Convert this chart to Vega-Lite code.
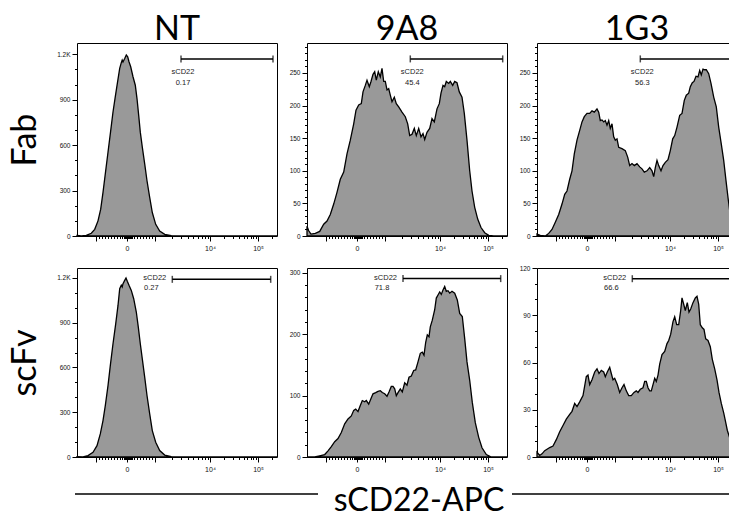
{
  "$schema": "https://vega.github.io/schema/vega-lite/v6.json",
  "padding": {"left": 8, "top": 12, "right": 0, "bottom": 0},
  "background": "white",
  "config": {
    "view": {"stroke": "black", "strokeWidth": 1},
    "axis": {"grid": false, "domain": false, "tickColor": "black", "tickWidth": 1, "labelFont": "Liberation Sans", "labelFontSize": 6.5, "labelColor": "#111111", "labelOverlap": false, "labelFlush": false},
    "title": {"font": "Lato", "fontSize": 34, "fontWeight": "normal", "color": "black", "offset": -4, "anchor": "middle"},
    "text": {"font": "Liberation Sans", "fontSize": 7.5, "color": "#222222"}
  },
  "datasets": {
    "nt_fab": [
      {"channel": 0, "count": 4}, {"channel": 4.3, "count": 0}, {"channel": 9.3, "count": 4}, {"channel": 14.3, "count": 18}, {"channel": 17.7, "count": 44}, {"channel": 21, "count": 100}, {"channel": 23.7, "count": 177}, {"channel": 26, "count": 288}, {"channel": 28.3, "count": 410}, {"channel": 31, "count": 553}, {"channel": 33.3, "count": 675}, {"channel": 36, "count": 819}, {"channel": 38, "count": 908}, {"channel": 40.3, "count": 1007}, {"channel": 42.7, "count": 1107}, {"channel": 44.3, "count": 1145}, {"channel": 45.2, "count": 1162}, {"channel": 46, "count": 1150}, {"channel": 47.7, "count": 1173}, {"channel": 49.3, "count": 1196}, {"channel": 50.7, "count": 1184}, {"channel": 52, "count": 1151}, {"channel": 53.7, "count": 1118}, {"channel": 56, "count": 1052}, {"channel": 58.3, "count": 996}, {"channel": 60, "count": 908}, {"channel": 61.7, "count": 797}, {"channel": 63.3, "count": 686}, {"channel": 65.3, "count": 587}, {"channel": 67.7, "count": 476}, {"channel": 70, "count": 365}, {"channel": 72.7, "count": 255}, {"channel": 75.3, "count": 155}, {"channel": 78.7, "count": 77}, {"channel": 82.7, "count": 33}, {"channel": 87.7, "count": 11}, {"channel": 94.3, "count": 2}, {"channel": 102.7, "count": 0}, {"channel": 200, "count": 0}
    ],
    "a98_fab": [
      {"channel": 0, "count": 15}, {"channel": 1.7, "count": 8}, {"channel": 4, "count": 3}, {"channel": 8.3, "count": 4}, {"channel": 12.7, "count": 7}, {"channel": 16.7, "count": 18}, {"channel": 20, "count": 23}, {"channel": 23.3, "count": 33}, {"channel": 26.7, "count": 49}, {"channel": 30, "count": 67}, {"channel": 33.3, "count": 87}, {"channel": 36.7, "count": 98}, {"channel": 40, "count": 126}, {"channel": 43.3, "count": 147}, {"channel": 46.7, "count": 172}, {"channel": 49, "count": 193}, {"channel": 51.7, "count": 201}, {"channel": 54.3, "count": 203}, {"channel": 56, "count": 221}, {"channel": 58.3, "count": 231}, {"channel": 60, "count": 239}, {"channel": 62.3, "count": 229}, {"channel": 64, "count": 237}, {"channel": 66, "count": 248}, {"channel": 67.7, "count": 252}, {"channel": 69.3, "count": 239}, {"channel": 71.3, "count": 252}, {"channel": 73.3, "count": 244}, {"channel": 75, "count": 257}, {"channel": 76.7, "count": 237}, {"channel": 78.3, "count": 237}, {"channel": 80, "count": 224}, {"channel": 81.7, "count": 226}, {"channel": 83.3, "count": 216}, {"channel": 85, "count": 206}, {"channel": 87.3, "count": 213}, {"channel": 89.3, "count": 203}, {"channel": 91.7, "count": 198}, {"channel": 95, "count": 190}, {"channel": 98.3, "count": 183}, {"channel": 100.7, "count": 172}, {"channel": 102.7, "count": 154}, {"channel": 105, "count": 156}, {"channel": 107.3, "count": 165}, {"channel": 109.3, "count": 154}, {"channel": 111.7, "count": 165}, {"channel": 114, "count": 152}, {"channel": 116, "count": 157}, {"channel": 117.7, "count": 148}, {"channel": 120, "count": 159}, {"channel": 122.7, "count": 165}, {"channel": 125, "count": 180}, {"channel": 127.3, "count": 175}, {"channel": 130, "count": 195}, {"channel": 132.3, "count": 203}, {"channel": 134, "count": 219}, {"channel": 136, "count": 231}, {"channel": 137.7, "count": 229}, {"channel": 139.3, "count": 237}, {"channel": 141.7, "count": 234}, {"channel": 143.3, "count": 237}, {"channel": 145.7, "count": 231}, {"channel": 147.7, "count": 237}, {"channel": 150, "count": 235}, {"channel": 152.3, "count": 221}, {"channel": 155, "count": 213}, {"channel": 157.3, "count": 188}, {"channel": 160, "count": 147}, {"channel": 162.7, "count": 100}, {"channel": 165, "count": 69}, {"channel": 167.7, "count": 44}, {"channel": 170.7, "count": 26}, {"channel": 174, "count": 13}, {"channel": 177.7, "count": 5}, {"channel": 181.7, "count": 1}, {"channel": 186.7, "count": 0}, {"channel": 200, "count": 0}
    ],
    "g13_fab": [
      {"channel": 0, "count": 3}, {"channel": 3.3, "count": 1}, {"channel": 8.3, "count": 0}, {"channel": 11.7, "count": 4}, {"channel": 15, "count": 10}, {"channel": 18.3, "count": 21}, {"channel": 21.7, "count": 33}, {"channel": 25, "count": 49}, {"channel": 27.7, "count": 64}, {"channel": 30, "count": 69}, {"channel": 32.7, "count": 87}, {"channel": 35, "count": 100}, {"channel": 37.3, "count": 126}, {"channel": 40, "count": 147}, {"channel": 42.7, "count": 162}, {"channel": 45, "count": 175}, {"channel": 47.3, "count": 183}, {"channel": 50, "count": 188}, {"channel": 52.7, "count": 188}, {"channel": 55, "count": 192}, {"channel": 57.3, "count": 190}, {"channel": 60, "count": 195}, {"channel": 61.7, "count": 190}, {"channel": 63.3, "count": 177}, {"channel": 65, "count": 178}, {"channel": 66.7, "count": 175}, {"channel": 68.3, "count": 177}, {"channel": 70, "count": 170}, {"channel": 71.7, "count": 177}, {"channel": 73.3, "count": 165}, {"channel": 75, "count": 172}, {"channel": 76.7, "count": 152}, {"channel": 78.3, "count": 147}, {"channel": 80, "count": 149}, {"channel": 81.7, "count": 136}, {"channel": 85, "count": 134}, {"channel": 88.3, "count": 131}, {"channel": 90.7, "count": 121}, {"channel": 92.7, "count": 108}, {"channel": 95, "count": 111}, {"channel": 97.3, "count": 108}, {"channel": 100, "count": 111}, {"channel": 102.7, "count": 106}, {"channel": 105, "count": 103}, {"channel": 107.3, "count": 98}, {"channel": 110, "count": 100}, {"channel": 112.7, "count": 105}, {"channel": 115, "count": 100}, {"channel": 116.7, "count": 91}, {"channel": 118.3, "count": 105}, {"channel": 120, "count": 116}, {"channel": 121.7, "count": 108}, {"channel": 124, "count": 100}, {"channel": 126, "count": 108}, {"channel": 128.3, "count": 113}, {"channel": 131, "count": 117}, {"channel": 133.3, "count": 131}, {"channel": 135.7, "count": 149}, {"channel": 137.7, "count": 154}, {"channel": 140, "count": 167}, {"channel": 142.7, "count": 185}, {"channel": 145, "count": 188}, {"channel": 147.3, "count": 208}, {"channel": 149.3, "count": 216}, {"channel": 151.7, "count": 219}, {"channel": 153.3, "count": 229}, {"channel": 155.3, "count": 235}, {"channel": 157, "count": 237}, {"channel": 159, "count": 245}, {"channel": 161, "count": 244}, {"channel": 162.7, "count": 254}, {"channel": 164.3, "count": 247}, {"channel": 166, "count": 256}, {"channel": 167.7, "count": 255}, {"channel": 169.3, "count": 255}, {"channel": 171.7, "count": 249}, {"channel": 174, "count": 234}, {"channel": 176.7, "count": 213}, {"channel": 179.3, "count": 198}, {"channel": 181.7, "count": 167}, {"channel": 184.3, "count": 141}, {"channel": 186.7, "count": 116}, {"channel": 189, "count": 85}, {"channel": 191, "count": 59}, {"channel": 192.7, "count": 39}, {"channel": 195, "count": 21}, {"channel": 198.3, "count": 5}, {"channel": 200, "count": 2}
    ],
    "nt_scfv": [
      {"channel": 0, "count": 2}, {"channel": 6, "count": 0}, {"channel": 11, "count": 9}, {"channel": 16, "count": 31}, {"channel": 20, "count": 76}, {"channel": 23.3, "count": 155}, {"channel": 26, "count": 244}, {"channel": 28.3, "count": 345}, {"channel": 31, "count": 479}, {"channel": 33.3, "count": 613}, {"channel": 36, "count": 759}, {"channel": 38.7, "count": 893}, {"channel": 41, "count": 1016}, {"channel": 42.7, "count": 1128}, {"channel": 44.3, "count": 1151}, {"channel": 45.2, "count": 1140}, {"channel": 46, "count": 1162}, {"channel": 47.7, "count": 1184}, {"channel": 49, "count": 1200}, {"channel": 50.3, "count": 1178}, {"channel": 52, "count": 1151}, {"channel": 54.3, "count": 1117}, {"channel": 56.7, "count": 1061}, {"channel": 59.3, "count": 972}, {"channel": 61.3, "count": 871}, {"channel": 63.3, "count": 759}, {"channel": 65.3, "count": 658}, {"channel": 67.7, "count": 535}, {"channel": 70, "count": 412}, {"channel": 72.7, "count": 289}, {"channel": 75.3, "count": 177}, {"channel": 78.7, "count": 99}, {"channel": 82.7, "count": 43}, {"channel": 87.7, "count": 13}, {"channel": 94.3, "count": 2}, {"channel": 101, "count": 0}, {"channel": 200, "count": 0}
    ],
    "a98_scfv": [
      {"channel": 0, "count": 0}, {"channel": 7.7, "count": 0}, {"channel": 12.7, "count": 2}, {"channel": 17.7, "count": 4}, {"channel": 21, "count": 10}, {"channel": 24.3, "count": 17}, {"channel": 27.7, "count": 25}, {"channel": 31, "count": 30}, {"channel": 34.3, "count": 40}, {"channel": 37.7, "count": 54}, {"channel": 41, "count": 62}, {"channel": 44.3, "count": 67}, {"channel": 46.7, "count": 76}, {"channel": 48.7, "count": 78}, {"channel": 51, "count": 74}, {"channel": 53.3, "count": 84}, {"channel": 55.3, "count": 92}, {"channel": 57.7, "count": 90}, {"channel": 59.3, "count": 92}, {"channel": 61.7, "count": 86}, {"channel": 63.7, "count": 94}, {"channel": 66, "count": 103}, {"channel": 68.7, "count": 105}, {"channel": 71, "count": 107}, {"channel": 73.3, "count": 108}, {"channel": 75.3, "count": 105}, {"channel": 77.7, "count": 103}, {"channel": 80, "count": 99}, {"channel": 82, "count": 106}, {"channel": 84.3, "count": 115}, {"channel": 86, "count": 115}, {"channel": 87.7, "count": 111}, {"channel": 89.3, "count": 100}, {"channel": 91, "count": 105}, {"channel": 93.3, "count": 111}, {"channel": 95.3, "count": 106}, {"channel": 97.7, "count": 121}, {"channel": 100, "count": 117}, {"channel": 102, "count": 130}, {"channel": 104.3, "count": 132}, {"channel": 106.7, "count": 141}, {"channel": 108.7, "count": 142}, {"channel": 111, "count": 155}, {"channel": 113.3, "count": 169}, {"channel": 115.3, "count": 171}, {"channel": 117, "count": 166}, {"channel": 118.7, "count": 187}, {"channel": 120.3, "count": 199}, {"channel": 122, "count": 196}, {"channel": 123.3, "count": 212}, {"channel": 125.3, "count": 223}, {"channel": 127.7, "count": 240}, {"channel": 129.3, "count": 259}, {"channel": 131, "count": 264}, {"channel": 132.7, "count": 269}, {"channel": 134.3, "count": 265}, {"channel": 136, "count": 272}, {"channel": 137.7, "count": 278}, {"channel": 139.3, "count": 270}, {"channel": 141, "count": 271}, {"channel": 142.7, "count": 267}, {"channel": 145, "count": 270}, {"channel": 147.7, "count": 267}, {"channel": 150.3, "count": 256}, {"channel": 152.7, "count": 234}, {"channel": 155.3, "count": 229}, {"channel": 157.7, "count": 193}, {"channel": 160, "count": 155}, {"channel": 162.7, "count": 125}, {"channel": 165.3, "count": 89}, {"channel": 168.3, "count": 56}, {"channel": 171.7, "count": 32}, {"channel": 175, "count": 15}, {"channel": 179.3, "count": 4}, {"channel": 184.3, "count": 0}, {"channel": 200, "count": 0}
    ],
    "g13_scfv": [
      {"channel": 0, "count": 3}, {"channel": 2.7, "count": 1}, {"channel": 5, "count": 2}, {"channel": 7.7, "count": 4}, {"channel": 12.7, "count": 6}, {"channel": 16, "count": 7}, {"channel": 19.3, "count": 11}, {"channel": 22.7, "count": 16}, {"channel": 26, "count": 20}, {"channel": 29.3, "count": 24}, {"channel": 32.7, "count": 27}, {"channel": 35, "count": 29}, {"channel": 37.7, "count": 34}, {"channel": 40, "count": 32}, {"channel": 42.7, "count": 35}, {"channel": 46, "count": 39}, {"channel": 49.3, "count": 51}, {"channel": 51, "count": 52}, {"channel": 52.7, "count": 46}, {"channel": 55, "count": 49}, {"channel": 57.7, "count": 54}, {"channel": 60, "count": 56}, {"channel": 62, "count": 53}, {"channel": 64.3, "count": 55}, {"channel": 66.7, "count": 54}, {"channel": 68.3, "count": 51}, {"channel": 70.3, "count": 54}, {"channel": 72.7, "count": 57}, {"channel": 74.3, "count": 53}, {"channel": 76, "count": 49}, {"channel": 77.7, "count": 50}, {"channel": 80.3, "count": 46}, {"channel": 82.7, "count": 41}, {"channel": 85, "count": 44}, {"channel": 87, "count": 46}, {"channel": 89.3, "count": 42}, {"channel": 91.7, "count": 39}, {"channel": 94.3, "count": 39}, {"channel": 97, "count": 41}, {"channel": 99.3, "count": 42}, {"channel": 101, "count": 41}, {"channel": 103.3, "count": 43}, {"channel": 106, "count": 44}, {"channel": 107.7, "count": 48}, {"channel": 109.3, "count": 48}, {"channel": 111, "count": 44}, {"channel": 112.7, "count": 42}, {"channel": 114.3, "count": 42}, {"channel": 116, "count": 46}, {"channel": 117.7, "count": 50}, {"channel": 119.3, "count": 48}, {"channel": 121, "count": 52}, {"channel": 122.7, "count": 59}, {"channel": 125, "count": 65}, {"channel": 127.7, "count": 67}, {"channel": 130, "count": 72}, {"channel": 131.7, "count": 74}, {"channel": 133.7, "count": 78}, {"channel": 136, "count": 86}, {"channel": 137.7, "count": 89}, {"channel": 139.7, "count": 84}, {"channel": 141.7, "count": 84}, {"channel": 143.7, "count": 93}, {"channel": 145, "count": 101}, {"channel": 146.7, "count": 97}, {"channel": 148.3, "count": 93}, {"channel": 150.3, "count": 98}, {"channel": 152, "count": 92}, {"channel": 153.7, "count": 94}, {"channel": 156, "count": 98}, {"channel": 158.3, "count": 101}, {"channel": 160, "count": 102}, {"channel": 161.7, "count": 97}, {"channel": 163.3, "count": 84}, {"channel": 165.3, "count": 82}, {"channel": 167, "count": 81}, {"channel": 168.7, "count": 75}, {"channel": 171, "count": 74}, {"channel": 173.3, "count": 70}, {"channel": 175.3, "count": 62}, {"channel": 177.7, "count": 56}, {"channel": 180, "count": 49}, {"channel": 182, "count": 41}, {"channel": 184.3, "count": 34}, {"channel": 186.7, "count": 28}, {"channel": 188.7, "count": 22}, {"channel": 190.3, "count": 17}, {"channel": 194.3, "count": 9}, {"channel": 197.7, "count": 5}, {"channel": 200, "count": 3}
    ]
  },
  "vconcat": [
    {
      "columns": 3,
      "spacing": {"row": 32, "column": 30},
      "bounds": "flush",
      "concat": [
        {
          "width": 200, "height": 193,
          "title": {"text": "NT"},
          "resolve": {"axis": {"x": "independent", "y": "independent"}},
          "layer": [
            {"data": {"name": "nt_fab"}, "mark": {"type": "area", "color": "#999999", "stroke": "black", "strokeWidth": 1.3},
             "encoding": {
               "x": {"field": "channel", "type": "quantitative", "scale": {"domain": [0, 200], "nice": false, "zero": false},
                     "axis": {"orient": "bottom", "title": null, "values": [19, 50, 78, 133, 181], "labelExpr": "datum.value == 50 ? '0' : datum.value == 133 ? '10⁴' : datum.value == 181 ? '10⁵' : ''", "tickSize": 5, "labelPadding": 3, "labelFontSize": 7}},
               "y": {"field": "count", "type": "quantitative", "scale": {"domain": [0, 1275], "nice": false},
                     "axis": {"orient": "left", "values": [0, 300, 600, 900, 1200], "labelExpr": "datum.value >= 1000 ? format(datum.value / 1000, '.1f') + 'K' : datum.label", "tickSize": 5, "labelPadding": 2, "title": "Fab", "titleFont": "Lato", "titleFontSize": 34, "titleFontWeight": "normal", "titleColor": "black", "titlePadding": 14}}
             }},
            {"data": {"values": [{"start": 104, "end": 196, "level": 1169, "gate": "sCD22", "percent": "0.17"}]},
             "mark": {"type": "rule", "color": "black", "strokeWidth": 1.5},
             "encoding": {
               "x": {"field": "start", "type": "quantitative", "axis": {"orient": "bottom", "title": null, "labels": false, "tickSize": 2.5, "values": [22, 25, 28, 31, 34, 37, 40, 43, 45, 46.5, 47.5, 48.5, 49.3, 50.7, 51.5, 52.5, 53.5, 55, 57, 60, 63, 66, 69, 72, 75, 94.6, 104.2, 111.1, 116.4, 120.8, 124.5, 127.7, 130.5, 147.4, 155.9, 161.9, 166.6, 170.4, 173.6, 176.4, 178.8, 195.4]}},
               "x2": {"field": "end"},
               "y": {"field": "level", "type": "quantitative", "axis": {"orient": "left", "title": null, "labels": false, "tickSize": 2.5, "values": [100, 200, 400, 500, 700, 800, 1000, 1100]}}
             }},
            {"data": {"values": [{"start": 104, "end": 196, "level": 1169, "gate": "sCD22", "percent": "0.17"}]},
             "layer": [
               {"mark": {"type": "tick", "orient": "vertical", "size": 7, "thickness": 1.5, "color": "black"},
                "encoding": {"x": {"field": "start", "type": "quantitative", "axis": null}, "y": {"field": "level", "type": "quantitative", "axis": null}}},
               {"mark": {"type": "tick", "orient": "vertical", "size": 7, "thickness": 1.5, "color": "black"},
                "encoding": {"x": {"field": "end", "type": "quantitative", "axis": null}, "y": {"field": "level", "type": "quantitative", "axis": null}}},
               {"mark": {"type": "text", "align": "center", "baseline": "middle", "dx": 2, "dy": 13},
                "encoding": {"x": {"field": "start", "type": "quantitative", "axis": null}, "y": {"field": "level", "type": "quantitative", "axis": null}, "text": {"field": "gate"}}},
               {"mark": {"type": "text", "align": "center", "baseline": "middle", "dx": 2, "dy": 24},
                "encoding": {"x": {"field": "start", "type": "quantitative", "axis": null}, "y": {"field": "level", "type": "quantitative", "axis": null}, "text": {"field": "percent"}}}
             ]}
          ]
        },
        {
          "width": 200, "height": 193,
          "title": {"text": "9A8"},
          "resolve": {"axis": {"x": "independent", "y": "independent"}},
          "layer": [
            {"data": {"name": "a98_fab"}, "mark": {"type": "area", "color": "#999999", "stroke": "black", "strokeWidth": 1.3},
             "encoding": {
               "x": {"field": "channel", "type": "quantitative", "scale": {"domain": [0, 200], "nice": false, "zero": false},
                     "axis": {"orient": "bottom", "title": null, "values": [19, 50, 78, 133, 181], "labelExpr": "datum.value == 50 ? '0' : datum.value == 133 ? '10⁴' : datum.value == 181 ? '10⁵' : ''", "tickSize": 5, "labelPadding": 3, "labelFontSize": 7}},
               "y": {"field": "count", "type": "quantitative", "scale": {"domain": [0, 296], "nice": false},
                     "axis": {"orient": "left", "values": [0, 50, 100, 150, 200, 250], "tickSize": 5, "labelPadding": 2, "title": null}}
             }},
            {"data": {"values": [{"start": 103.3, "end": 195.7, "level": 271.6, "gate": "sCD22", "percent": "45.4"}]},
             "mark": {"type": "rule", "color": "black", "strokeWidth": 1.5},
             "encoding": {
               "x": {"field": "start", "type": "quantitative", "axis": {"orient": "bottom", "title": null, "labels": false, "tickSize": 2.5, "values": [22, 25, 28, 31, 34, 37, 40, 43, 45, 46.5, 47.5, 48.5, 49.3, 50.7, 51.5, 52.5, 53.5, 55, 57, 60, 63, 66, 69, 72, 75, 94.6, 104.2, 111.1, 116.4, 120.8, 124.5, 127.7, 130.5, 147.4, 155.9, 161.9, 166.6, 170.4, 173.6, 176.4, 178.8, 195.4]}},
               "x2": {"field": "end"},
               "y": {"field": "level", "type": "quantitative", "axis": {"orient": "left", "title": null, "labels": false, "tickSize": 2.5, "values": [10, 20, 30, 40, 60, 70, 80, 90, 110, 120, 130, 140, 160, 170, 180, 190, 210, 220, 230, 240, 260, 270, 280, 290]}}
             }},
            {"data": {"values": [{"start": 103.3, "end": 195.7, "level": 271.6, "gate": "sCD22", "percent": "45.4"}]},
             "layer": [
               {"mark": {"type": "tick", "orient": "vertical", "size": 7, "thickness": 1.5, "color": "black"},
                "encoding": {"x": {"field": "start", "type": "quantitative", "axis": null}, "y": {"field": "level", "type": "quantitative", "axis": null}}},
               {"mark": {"type": "tick", "orient": "vertical", "size": 7, "thickness": 1.5, "color": "black"},
                "encoding": {"x": {"field": "end", "type": "quantitative", "axis": null}, "y": {"field": "level", "type": "quantitative", "axis": null}}},
               {"mark": {"type": "text", "align": "center", "baseline": "middle", "dx": 2, "dy": 13},
                "encoding": {"x": {"field": "start", "type": "quantitative", "axis": null}, "y": {"field": "level", "type": "quantitative", "axis": null}, "text": {"field": "gate"}}},
               {"mark": {"type": "text", "align": "center", "baseline": "middle", "dx": 2, "dy": 24},
                "encoding": {"x": {"field": "start", "type": "quantitative", "axis": null}, "y": {"field": "level", "type": "quantitative", "axis": null}, "text": {"field": "percent"}}}
             ]}
          ]
        },
        {
          "width": 200, "height": 193,
          "title": {"text": "1G3"},
          "resolve": {"axis": {"x": "independent", "y": "independent"}},
          "layer": [
            {"data": {"name": "g13_fab"}, "mark": {"type": "area", "color": "#999999", "stroke": "black", "strokeWidth": 1.3},
             "encoding": {
               "x": {"field": "channel", "type": "quantitative", "scale": {"domain": [0, 200], "nice": false, "zero": false},
                     "axis": {"orient": "bottom", "title": null, "values": [19, 50, 78, 133, 181], "labelExpr": "datum.value == 50 ? '0' : datum.value == 133 ? '10⁴' : datum.value == 181 ? '10⁵' : ''", "tickSize": 5, "labelPadding": 3, "labelFontSize": 7}},
               "y": {"field": "count", "type": "quantitative", "scale": {"domain": [0, 296], "nice": false},
                     "axis": {"orient": "left", "values": [0, 50, 100, 150, 200, 250], "tickSize": 5, "labelPadding": 2, "title": null}}
             }},
            {"data": {"values": [{"start": 103.3, "end": 195.7, "level": 271.6, "gate": "sCD22", "percent": "56.3"}]},
             "mark": {"type": "rule", "color": "black", "strokeWidth": 1.5},
             "encoding": {
               "x": {"field": "start", "type": "quantitative", "axis": {"orient": "bottom", "title": null, "labels": false, "tickSize": 2.5, "values": [22, 25, 28, 31, 34, 37, 40, 43, 45, 46.5, 47.5, 48.5, 49.3, 50.7, 51.5, 52.5, 53.5, 55, 57, 60, 63, 66, 69, 72, 75, 94.6, 104.2, 111.1, 116.4, 120.8, 124.5, 127.7, 130.5, 147.4, 155.9, 161.9, 166.6, 170.4, 173.6, 176.4, 178.8, 195.4]}},
               "x2": {"field": "end"},
               "y": {"field": "level", "type": "quantitative", "axis": {"orient": "left", "title": null, "labels": false, "tickSize": 2.5, "values": [10, 20, 30, 40, 60, 70, 80, 90, 110, 120, 130, 140, 160, 170, 180, 190, 210, 220, 230, 240, 260, 270, 280, 290]}}
             }},
            {"data": {"values": [{"start": 103.3, "end": 195.7, "level": 271.6, "gate": "sCD22", "percent": "56.3"}]},
             "layer": [
               {"mark": {"type": "tick", "orient": "vertical", "size": 7, "thickness": 1.5, "color": "black"},
                "encoding": {"x": {"field": "start", "type": "quantitative", "axis": null}, "y": {"field": "level", "type": "quantitative", "axis": null}}},
               {"mark": {"type": "tick", "orient": "vertical", "size": 7, "thickness": 1.5, "color": "black"},
                "encoding": {"x": {"field": "end", "type": "quantitative", "axis": null}, "y": {"field": "level", "type": "quantitative", "axis": null}}},
               {"mark": {"type": "text", "align": "center", "baseline": "middle", "dx": 2, "dy": 13},
                "encoding": {"x": {"field": "start", "type": "quantitative", "axis": null}, "y": {"field": "level", "type": "quantitative", "axis": null}, "text": {"field": "gate"}}},
               {"mark": {"type": "text", "align": "center", "baseline": "middle", "dx": 2, "dy": 24},
                "encoding": {"x": {"field": "start", "type": "quantitative", "axis": null}, "y": {"field": "level", "type": "quantitative", "axis": null}, "text": {"field": "percent"}}}
             ]}
          ]
        },
        {
          "width": 200, "height": 189,
          "resolve": {"axis": {"x": "independent", "y": "independent"}},
          "layer": [
            {"data": {"name": "nt_scfv"}, "mark": {"type": "area", "color": "#999999", "stroke": "black", "strokeWidth": 1.3},
             "encoding": {
               "x": {"field": "channel", "type": "quantitative", "scale": {"domain": [0, 200], "nice": false, "zero": false},
                     "axis": {"orient": "bottom", "title": null, "values": [19, 50, 78, 133, 181], "labelExpr": "datum.value == 50 ? '0' : datum.value == 133 ? '10⁴' : datum.value == 181 ? '10⁵' : ''", "tickSize": 5, "labelPadding": 3, "labelFontSize": 7}},
               "y": {"field": "count", "type": "quantitative", "scale": {"domain": [0, 1267], "nice": false},
                     "axis": {"orient": "left", "values": [0, 300, 600, 900, 1200], "labelExpr": "datum.value >= 1000 ? format(datum.value / 1000, '.1f') + 'K' : datum.label", "tickSize": 5, "labelPadding": 2, "title": "scFv", "titleFont": "Lato", "titleFontSize": 34, "titleFontWeight": "normal", "titleColor": "black", "titlePadding": 14}}
             }},
            {"data": {"values": [{"start": 95.3, "end": 193.7, "level": 1191, "gate": "sCD22", "percent": "0.27"}]},
             "mark": {"type": "rule", "color": "black", "strokeWidth": 1.5},
             "encoding": {
               "x": {"field": "start", "type": "quantitative", "axis": {"orient": "bottom", "title": null, "labels": false, "tickSize": 2.5, "values": [22, 25, 28, 31, 34, 37, 40, 43, 45, 46.5, 47.5, 48.5, 49.3, 50.7, 51.5, 52.5, 53.5, 55, 57, 60, 63, 66, 69, 72, 75, 94.6, 104.2, 111.1, 116.4, 120.8, 124.5, 127.7, 130.5, 147.4, 155.9, 161.9, 166.6, 170.4, 173.6, 176.4, 178.8, 195.4]}},
               "x2": {"field": "end"},
               "y": {"field": "level", "type": "quantitative", "axis": {"orient": "left", "title": null, "labels": false, "tickSize": 2.5, "values": [100, 200, 400, 500, 700, 800, 1000, 1100]}}
             }},
            {"data": {"values": [{"start": 95.3, "end": 193.7, "level": 1191, "gate": "sCD22", "percent": "0.27"}]},
             "layer": [
               {"mark": {"type": "tick", "orient": "vertical", "size": 7, "thickness": 1.5, "color": "black"},
                "encoding": {"x": {"field": "start", "type": "quantitative", "axis": null}, "y": {"field": "level", "type": "quantitative", "axis": null}}},
               {"mark": {"type": "tick", "orient": "vertical", "size": 7, "thickness": 1.5, "color": "black"},
                "encoding": {"x": {"field": "end", "type": "quantitative", "axis": null}, "y": {"field": "level", "type": "quantitative", "axis": null}}},
               {"mark": {"type": "text", "align": "right", "baseline": "middle", "dx": -6, "dy": -1},
                "encoding": {"x": {"field": "start", "type": "quantitative", "axis": null}, "y": {"field": "level", "type": "quantitative", "axis": null}, "text": {"field": "gate"}}},
               {"mark": {"type": "text", "align": "center", "baseline": "middle", "dx": -21, "dy": 9},
                "encoding": {"x": {"field": "start", "type": "quantitative", "axis": null}, "y": {"field": "level", "type": "quantitative", "axis": null}, "text": {"field": "percent"}}}
             ]}
          ]
        },
        {
          "width": 200, "height": 189,
          "resolve": {"axis": {"x": "independent", "y": "independent"}},
          "layer": [
            {"data": {"name": "a98_scfv"}, "mark": {"type": "area", "color": "#999999", "stroke": "black", "strokeWidth": 1.3},
             "encoding": {
               "x": {"field": "channel", "type": "quantitative", "scale": {"domain": [0, 200], "nice": false, "zero": false},
                     "axis": {"orient": "bottom", "title": null, "values": [19, 50, 78, 133, 181], "labelExpr": "datum.value == 50 ? '0' : datum.value == 133 ? '10⁴' : datum.value == 181 ? '10⁵' : ''", "tickSize": 5, "labelPadding": 3, "labelFontSize": 7}},
               "y": {"field": "count", "type": "quantitative", "scale": {"domain": [0, 308], "nice": false},
                     "axis": {"orient": "left", "values": [0, 100, 200, 300], "tickSize": 5, "labelPadding": 2, "title": null}}
             }},
            {"data": {"values": [{"start": 96, "end": 193.7, "level": 290.7, "gate": "sCD22", "percent": "71.8"}]},
             "mark": {"type": "rule", "color": "black", "strokeWidth": 1.5},
             "encoding": {
               "x": {"field": "start", "type": "quantitative", "axis": {"orient": "bottom", "title": null, "labels": false, "tickSize": 2.5, "values": [22, 25, 28, 31, 34, 37, 40, 43, 45, 46.5, 47.5, 48.5, 49.3, 50.7, 51.5, 52.5, 53.5, 55, 57, 60, 63, 66, 69, 72, 75, 94.6, 104.2, 111.1, 116.4, 120.8, 124.5, 127.7, 130.5, 147.4, 155.9, 161.9, 166.6, 170.4, 173.6, 176.4, 178.8, 195.4]}},
               "x2": {"field": "end"},
               "y": {"field": "level", "type": "quantitative", "axis": {"orient": "left", "title": null, "labels": false, "tickSize": 2.5, "values": [20, 40, 60, 80, 120, 140, 160, 180, 220, 240, 260, 280]}}
             }},
            {"data": {"values": [{"start": 96, "end": 193.7, "level": 290.7, "gate": "sCD22", "percent": "71.8"}]},
             "layer": [
               {"mark": {"type": "tick", "orient": "vertical", "size": 7, "thickness": 1.5, "color": "black"},
                "encoding": {"x": {"field": "start", "type": "quantitative", "axis": null}, "y": {"field": "level", "type": "quantitative", "axis": null}}},
               {"mark": {"type": "tick", "orient": "vertical", "size": 7, "thickness": 1.5, "color": "black"},
                "encoding": {"x": {"field": "end", "type": "quantitative", "axis": null}, "y": {"field": "level", "type": "quantitative", "axis": null}}},
               {"mark": {"type": "text", "align": "right", "baseline": "middle", "dx": -6, "dy": -1},
                "encoding": {"x": {"field": "start", "type": "quantitative", "axis": null}, "y": {"field": "level", "type": "quantitative", "axis": null}, "text": {"field": "gate"}}},
               {"mark": {"type": "text", "align": "center", "baseline": "middle", "dx": -21, "dy": 9},
                "encoding": {"x": {"field": "start", "type": "quantitative", "axis": null}, "y": {"field": "level", "type": "quantitative", "axis": null}, "text": {"field": "percent"}}}
             ]}
          ]
        },
        {
          "width": 200, "height": 189,
          "resolve": {"axis": {"x": "independent", "y": "independent"}},
          "layer": [
            {"data": {"name": "g13_scfv"}, "mark": {"type": "area", "color": "#999999", "stroke": "black", "strokeWidth": 1.3},
             "encoding": {
               "x": {"field": "channel", "type": "quantitative", "scale": {"domain": [0, 200], "nice": false, "zero": false},
                     "axis": {"orient": "bottom", "title": null, "values": [19, 50, 78, 133, 181], "labelExpr": "datum.value == 50 ? '0' : datum.value == 133 ? '10⁴' : datum.value == 181 ? '10⁵' : ''", "tickSize": 5, "labelPadding": 3, "labelFontSize": 7}},
               "y": {"field": "count", "type": "quantitative", "scale": {"domain": [0, 120], "nice": false},
                     "axis": {"orient": "left", "values": [0, 30, 60, 90, 120], "tickSize": 5, "labelPadding": 2, "title": null}}
             }},
            {"data": {"values": [{"start": 95.3, "end": 193.7, "level": 113.2, "gate": "sCD22", "percent": "66.6"}]},
             "mark": {"type": "rule", "color": "black", "strokeWidth": 1.5},
             "encoding": {
               "x": {"field": "start", "type": "quantitative", "axis": {"orient": "bottom", "title": null, "labels": false, "tickSize": 2.5, "values": [22, 25, 28, 31, 34, 37, 40, 43, 45, 46.5, 47.5, 48.5, 49.3, 50.7, 51.5, 52.5, 53.5, 55, 57, 60, 63, 66, 69, 72, 75, 94.6, 104.2, 111.1, 116.4, 120.8, 124.5, 127.7, 130.5, 147.4, 155.9, 161.9, 166.6, 170.4, 173.6, 176.4, 178.8, 195.4]}},
               "x2": {"field": "end"},
               "y": {"field": "level", "type": "quantitative", "axis": {"orient": "left", "title": null, "labels": false, "tickSize": 2.5, "values": [10, 20, 40, 50, 70, 80, 100, 110]}}
             }},
            {"data": {"values": [{"start": 95.3, "end": 193.7, "level": 113.2, "gate": "sCD22", "percent": "66.6"}]},
             "layer": [
               {"mark": {"type": "tick", "orient": "vertical", "size": 7, "thickness": 1.5, "color": "black"},
                "encoding": {"x": {"field": "start", "type": "quantitative", "axis": null}, "y": {"field": "level", "type": "quantitative", "axis": null}}},
               {"mark": {"type": "tick", "orient": "vertical", "size": 7, "thickness": 1.5, "color": "black"},
                "encoding": {"x": {"field": "end", "type": "quantitative", "axis": null}, "y": {"field": "level", "type": "quantitative", "axis": null}}},
               {"mark": {"type": "text", "align": "right", "baseline": "middle", "dx": -6, "dy": -1},
                "encoding": {"x": {"field": "start", "type": "quantitative", "axis": null}, "y": {"field": "level", "type": "quantitative", "axis": null}, "text": {"field": "gate"}}},
               {"mark": {"type": "text", "align": "center", "baseline": "middle", "dx": -21, "dy": 9},
                "encoding": {"x": {"field": "start", "type": "quantitative", "axis": null}, "y": {"field": "level", "type": "quantitative", "axis": null}, "text": {"field": "percent"}}}
             ]}
          ]
        }
      ]
    },
    {
      "width": 652, "height": 30,
      "view": {"stroke": null},
      "layer": [
        {"data": {"values": [{"from": -2, "to": 241}, {"from": 435, "to": 660}]},
         "mark": {"type": "rule", "color": "black", "strokeWidth": 1.3},
         "encoding": {
           "x": {"field": "from", "type": "quantitative", "scale": {"domain": [0, 652], "nice": false, "zero": false}, "axis": null},
           "x2": {"field": "to"},
           "y": {"datum": 0.767, "type": "quantitative", "scale": {"domain": [0, 1], "nice": false}, "axis": null}
         }},
        {"data": {"values": [{"label": "sCD22-APC", "at": 342}]},
         "mark": {"type": "text", "font": "Lato", "fontSize": 32, "color": "black", "baseline": "middle", "align": "center"},
         "encoding": {
           "x": {"field": "at", "type": "quantitative", "axis": null},
           "y": {"datum": 0.52, "type": "quantitative", "axis": null},
           "text": {"field": "label"}
         }}
      ]
    }
  ],
  "spacing": 12
}
